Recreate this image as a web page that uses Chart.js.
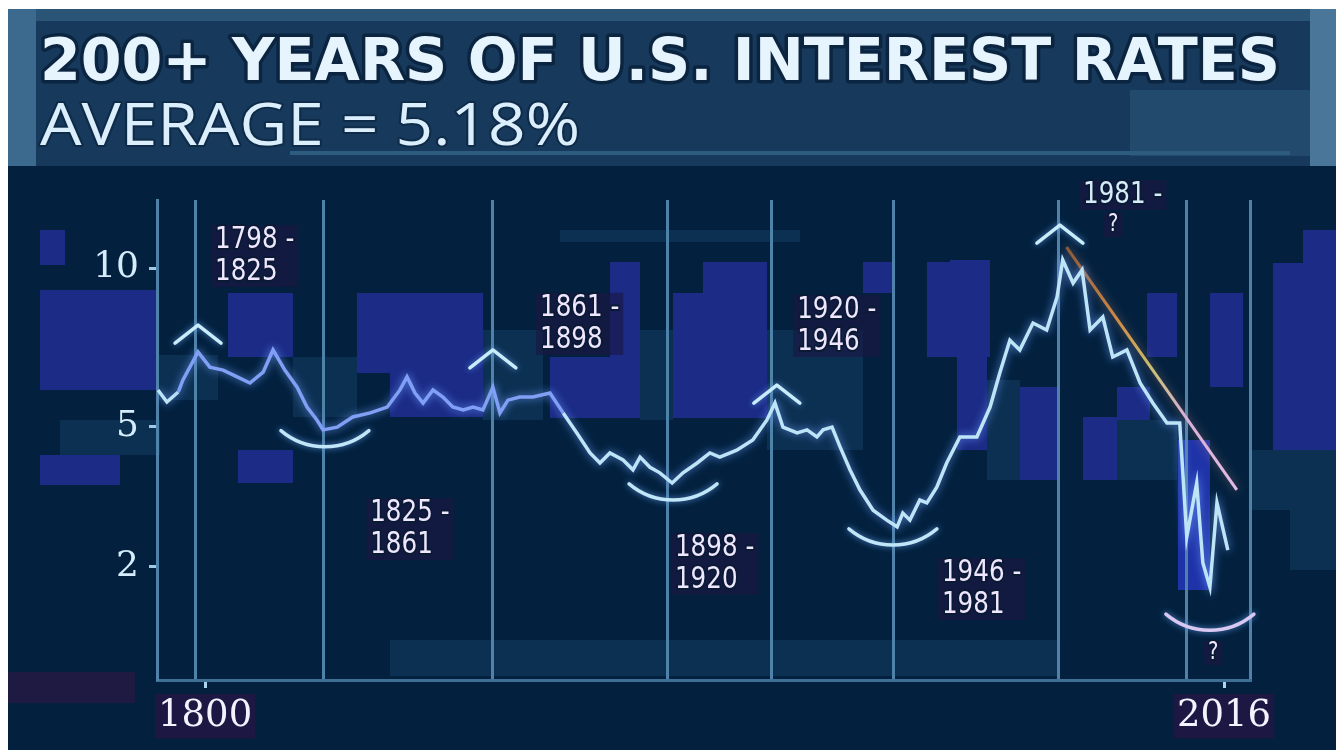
<!DOCTYPE html>
<html><head><meta charset="utf-8">
<script src="https://cdn.jsdelivr.net/npm/chart.js@4.4.1/dist/chart.umd.min.js"></script>
<style>html,body{margin:0;padding:0;background:#fff;overflow:hidden}canvas{display:block}</style>
</head><body>
<canvas id="c" width="1336" height="750"></canvas>
<script>
// ---------- DATA ----------
const titleText = '200+ YEARS OF U.S. INTEREST RATES';
const subtitleText = 'AVERAGE = 5.18%';

const years = [
  1790.0, 1791.9, 1794.3, 1795.3, 1798.5, 1801.0, 1803.8, 1806.8, 1809.5, 1812.3,
  1814.4, 1816.9, 1819.5, 1821.6, 1823.7, 1825.0, 1828.0, 1831.3, 1835.0, 1838.6,
  1841.3, 1842.8, 1844.5, 1846.2, 1848.3, 1850.4, 1852.5, 1854.7, 1856.8, 1858.9,
  1861.0, 1862.5, 1864.2, 1866.7, 1869.5, 1873.1, 1875.9, 1878.8, 1881.6, 1883.7,
  1885.8, 1888.6, 1890.7, 1892.2, 1894.3, 1896.4, 1899.0, 1901.3, 1904.3, 1907.0,
  1909.1, 1912.7, 1916.1, 1919.1, 1920.8, 1922.5, 1925.5, 1927.6, 1929.7, 1931.0,
  1932.9, 1934.6, 1936.7, 1938.8, 1941.6, 1944.5, 1946.7, 1947.9, 1949.4, 1951.5,
  1953.0, 1955.1, 1957.2, 1960.0, 1963.6, 1966.4, 1968.5, 1970.6, 1972.7, 1975.5,
  1978.4, 1980.6, 1981.8, 1984.0, 1985.9, 1987.6, 1990.3, 1992.4, 1995.4, 1998.2,
  2000.9, 2003.9, 2006.6, 2008.1, 2010.2, 2011.5, 2013.0, 2014.5, 2016.8
];
const rates = [
  6.00, 5.66, 5.94, 6.29, 7.14, 6.67, 6.58, 6.38, 6.20, 6.52,
  7.20, 6.58, 6.08, 5.52, 5.17, 4.91, 4.98, 5.25, 5.36, 5.52,
  6.00, 6.38, 5.91, 5.63, 6.00, 5.80, 5.52, 5.44, 5.52, 5.44,
  6.08, 5.36, 5.71, 5.80, 5.80, 5.91, 5.36, 4.83, 4.33, 4.09,
  4.33, 4.16, 3.93, 4.23, 3.99, 3.86, 3.63, 3.86, 4.09, 4.33,
  4.23, 4.40, 4.65, 5.17, 5.63, 4.98, 4.83, 4.91, 4.73, 4.91,
  4.98, 4.48, 3.93, 3.48, 3.05, 2.85, 2.72, 2.99, 2.85, 3.26,
  3.20, 3.54, 4.09, 4.73, 4.73, 5.52, 6.52, 7.51, 7.20, 8.07,
  7.84, 8.96, 10.30, 9.45, 9.93, 7.84, 8.27, 6.98, 7.20, 6.20,
  5.63, 5.09, 5.09, 2.53, 3.63, 2.07, 1.68, 3.20, 2.29
];

const trendYears = [1982.6, 2018.7];
const trendRates = [10.79, 3.48];

const yTickValues = [2, 5, 10];
const xLabelYears = [1800, 2016];
const eraBoundaryYears = [1798, 1825, 1861, 1898, 1920, 1946, 1981, 2008];

const peakYears = [1798.5, 1861.0, 1921.2, 1981.2];
const peakRates = [8.00, 7.20, 6.14, 11.65];
const troughYears = [1825.4, 1899.2, 1945.8, 2013.0];
const troughRates = [4.48, 3.26, 2.38, 1.09];

const eraLabelLines = [
  ['1798 -', '1825'], ['1825 -', '1861'], ['1861 -', '1898'], ['1898 -', '1920'],
  ['1920 -', '1946'], ['1946 -', '1981'], ['1981 -'], ['?'], ['?']
];
const eraLabelYears = [1802.1, 1835.0, 1871.0, 1899.6, 1925.5, 1956.2, 1986.1, 1991.4, 2012.6];
const eraLabelRates = [11.06, 2.99, 8.58, 2.33, 8.51, 1.90, 12.88, 11.65, 0.83];

// ---------- custom square-root value scale ----------
class SqrtScale extends Chart.LinearScale {
  getPixelForValue(value) {
    if (value === null || value === undefined || isNaN(value)) return NaN;
    const a = Math.sqrt(this.min), b = Math.sqrt(this.max);
    return this.getPixelForDecimal((Math.sqrt(Math.max(value, 0)) - a) / (b - a));
  }
  getValueForPixel(pixel) {
    const a = Math.sqrt(this.min), b = Math.sqrt(this.max);
    const s = a + this.getDecimalForPixel(pixel) * (b - a);
    return s * s;
  }
}
SqrtScale.id = 'sqrt';
SqrtScale.defaults = {};
Chart.register(SqrtScale);

// ---------- decoration helpers ----------
const BLUE = '#1b2b86', MID = '#0c3052';
const mosaic = [
  [40,230,25,35,BLUE],[40,290,118,100,BLUE],[40,455,80,30,BLUE],[228,293,65,64,BLUE],
  [238,450,55,33,BLUE],[357,293,126,80,BLUE],[390,373,93,44,BLUE],[550,357,90,61,BLUE],
  [610,262,30,95,BLUE],[673,293,30,125,BLUE],[703,262,64,156,BLUE],[863,262,30,31,BLUE],
  [927,262,60,95,BLUE],[957,357,30,93,BLUE],[950,260,40,97,BLUE],[1020,387,40,93,BLUE],
  [1083,417,34,63,BLUE],[1147,293,30,64,BLUE],[1210,293,33,94,BLUE],[1273,263,63,187,BLUE],
  [1303,230,33,33,BLUE],[1117,387,33,33,BLUE],[1178,440,32,150,'#1f33a8'],
  [158,355,60,45,MID],[293,357,64,60,MID],[483,330,60,90,MID],[640,330,33,90,MID],
  [767,330,96,120,MID],[987,380,33,100,MID],[1117,420,60,60,MID],[390,640,410,36,MID],
  [800,640,260,36,MID],[560,230,240,12,MID],[60,420,100,35,MID],[1250,450,86,60,MID],
  [1290,510,46,60,MID],[8,672,127,31,'#1e1a42']
];

function fittedText(ctx, text, x, baseline, width, font, fill, stroke, lw) {
  ctx.save();
  ctx.font = font;
  const w = ctx.measureText(text).width;
  ctx.translate(x, baseline);
  ctx.scale(width / w, 1);
  ctx.textAlign = 'left'; ctx.textBaseline = 'alphabetic';
  ctx.lineJoin = 'round';
  ctx.strokeStyle = stroke; ctx.lineWidth = lw; ctx.strokeText(text, 0, 0);
  ctx.fillStyle = fill; ctx.fillText(text, 0, 0);
  ctx.restore();
}

const bgPlugin = {
  id: 'bg',
  beforeDraw(chart) {
    const ctx = chart.ctx;
    ctx.save();
    ctx.fillStyle = '#ffffff'; ctx.fillRect(0, 0, 1336, 750);
    ctx.fillStyle = '#03213f'; ctx.fillRect(8, 9, 1328, 741);
    // banner
    ctx.fillStyle = '#173a5c'; ctx.fillRect(8, 9, 1328, 157);
    ctx.fillStyle = '#2a5577'; ctx.fillRect(8, 9, 1328, 12);
    ctx.fillStyle = '#3b6a8e'; ctx.fillRect(8, 9, 28, 157);
    ctx.fillStyle = '#224a6c'; ctx.fillRect(1130, 90, 180, 66);
    ctx.fillStyle = '#4a7799'; ctx.fillRect(1310, 9, 26, 157);
    ctx.fillStyle = '#2e5b80'; ctx.fillRect(290, 151, 1000, 4);
    mosaic.forEach(([x, y, w, h, c]) => { ctx.fillStyle = c; ctx.fillRect(x, y, w, h); });
    ctx.restore();
    fittedText(ctx, titleText, 40, 80, 1240, 'bold 59px "DejaVu Sans"', '#e6f4fd', '#0b2440', 7);
    fittedText(ctx, subtitleText, 40, 145, 540, '59px "Open Sans"', '#dbeefc', '#0f2b4a', 4);
  }
};

const glowPlugin = {
  id: 'glow',
  beforeDatasetDraw(chart, args) {
    chart.ctx.save();
    chart.ctx.shadowColor = args.index === 0 ? 'rgba(110,160,255,0.85)' : 'rgba(220,150,120,0.5)';
    chart.ctx.shadowBlur = 9;
  },
  afterDatasetDraw(chart) { chart.ctx.restore(); }
};

const markPlugin = {
  id: 'marks',
  afterDatasetsDraw(chart) {
    const ctx = chart.ctx, xs = chart.scales.x, ys = chart.scales.y;
    ctx.save();
    ctx.lineCap = 'round'; ctx.lineJoin = 'round';
    ctx.shadowColor = 'rgba(100,160,240,0.8)'; ctx.shadowBlur = 6;
    ctx.lineWidth = 3.5;
    peakYears.forEach((yr, i) => {
      const x = xs.getPixelForValue(yr), y = ys.getPixelForValue(peakRates[i]);
      ctx.strokeStyle = '#c9ecfb';
      ctx.beginPath(); ctx.moveTo(x - 23, y + 18); ctx.lineTo(x, y); ctx.lineTo(x + 23, y + 18); ctx.stroke();
    });
    troughYears.forEach((yr, i) => {
      const x = xs.getPixelForValue(yr), y = ys.getPixelForValue(troughRates[i]);
      const r = 68, th = Math.asin(44 / r);
      ctx.strokeStyle = i === troughYears.length - 1 ? '#d9c8f2' : '#c0e6f8';
      ctx.beginPath(); ctx.arc(x, y - r, r, Math.PI / 2 - th, Math.PI / 2 + th); ctx.stroke();
    });
    ctx.restore();
  },
  afterDraw(chart) {
    const ctx = chart.ctx, xs = chart.scales.x, ys = chart.scales.y;
    eraLabelLines.forEach((lines, i) => {
      const x = xs.getPixelForValue(eraLabelYears[i]), y = ys.getPixelForValue(eraLabelRates[i]);
      const small = lines[0] === '?';
      const size = small ? 24 : 30, sx = 0.82, lh = 32;
      ctx.save();
      ctx.font = size + 'px "DejaVu Sans"';
      const w = Math.max(...lines.map(t => ctx.measureText(t).width)) * sx;
      ctx.fillStyle = 'rgba(28,22,66,0.6)';
      ctx.fillRect(x - 4, y - size * 0.5, w + 8, lh * (lines.length - 1) + size);
      lines.forEach((t, k) => {
        ctx.save();
        ctx.translate(x, y + k * lh);
        ctx.scale(sx, 1);
        ctx.textAlign = 'left'; ctx.textBaseline = 'middle';
        ctx.lineJoin = 'round';
        ctx.strokeStyle = '#0a1a33'; ctx.lineWidth = 4; ctx.strokeText(t, 0, 0);
        ctx.fillStyle = lines[0] === '1981 -' ? '#d6ecfa' : '#efe6ff';
        ctx.fillText(t, 0, 0);
        ctx.restore();
      });
      ctx.restore();
    });
  }
};

// ---------- CHART ----------
const gridCol = '#4f82a8';
const isLabelTick = c => !!(c.tick && xLabelYears.includes(c.tick.value));
new Chart(document.getElementById('c'), {
  type: 'line',
  data: {
    datasets: [
      {
        label: 'U.S. interest rate',
        data: years.map((yr, i) => ({ x: yr, y: rates[i] })),
        borderColor: '#bde4f7',
        borderWidth: 3.5,
        pointRadius: 0,
        tension: 0,
        segment: {
          borderColor: c => (c.p0.parsed.x >= 1794 && c.p1.parsed.x <= 1876) ? '#809ff5' : undefined
        }
      },
      {
        label: 'Trend',
        data: trendYears.map((yr, i) => ({ x: yr, y: trendRates[i] })),
        borderWidth: 3,
        pointRadius: 0,
        borderColor: c => {
          const ch = c.chart;
          if (!ch.chartArea) return '#d08a45';
          const xs = ch.scales.x, ys = ch.scales.y;
          const g = ch.ctx.createLinearGradient(
            xs.getPixelForValue(trendYears[0]), ys.getPixelForValue(trendRates[0]),
            xs.getPixelForValue(trendYears[1]), ys.getPixelForValue(trendRates[1]));
          g.addColorStop(0, '#8a5a3a'); g.addColorStop(0.3, '#d08a45');
          g.addColorStop(0.5, '#c8c070'); g.addColorStop(0.7, '#d8b0d8'); g.addColorStop(1, '#e2bce8');
          return g;
        }
      }
    ]
  },
  options: {
    responsive: false,
    animation: false,
    devicePixelRatio: 1,
    layout: { padding: { top: 200, right: 86, left: 0, bottom: 0 } },
    plugins: { legend: { display: false }, tooltip: { enabled: false }, title: { display: false } },
    scales: {
      x: {
        type: 'linear',
        min: 1789.8,
        max: 2021.5,
        afterBuildTicks: s => {
          s.ticks = [...eraBoundaryYears, ...xLabelYears, s.max].sort((a, b) => a - b).map(v => ({ value: v }));
        },
        afterFit: s => { s.height = 70; },
        ticks: {
          autoSkip: false, maxRotation: 0, minRotation: 0,
          callback: v => xLabelYears.includes(v) ? String(v) : '',
          font: { family: 'DejaVu Serif', size: 37 },
          color: '#f5f2ff',
          padding: 6,
          showLabelBackdrop: c => isLabelTick(c),
          backdropColor: c => isLabelTick(c) ? '#1d1744' : 'rgba(0,0,0,0)',
          backdropPadding: { top: 0, bottom: 0, left: 3, right: 3 }
        },
        grid: {
          color: c => isLabelTick(c) ? 'rgba(0,0,0,0)' : gridCol,
          tickColor: c => isLabelTick(c) ? '#a9d6f0' : 'rgba(0,0,0,0)',
          lineWidth: 3, tickWidth: 3, tickLength: 8, drawTicks: true, drawOnChartArea: true
        },
        border: { display: true, color: '#3f6f95', width: 3 }
      },
      y: {
        type: 'sqrt',
        min: 0.5678,
        max: 12.673,
        afterBuildTicks: s => { s.ticks = yTickValues.map(v => ({ value: v })); },
        afterFit: s => { s.width = 157; },
        ticks: {
          callback: v => String(v),
          font: { family: 'DejaVu Serif', size: 36 },
          color: '#d4ecfb',
          padding: 10
        },
        grid: { drawOnChartArea: false, drawTicks: true, tickLength: 8, tickWidth: 3, tickColor: '#9fcbe6' },
        border: { display: true, color: gridCol, width: 3 }
      }
    }
  },
  plugins: [bgPlugin, glowPlugin, markPlugin]
});
</script>
</body></html>
